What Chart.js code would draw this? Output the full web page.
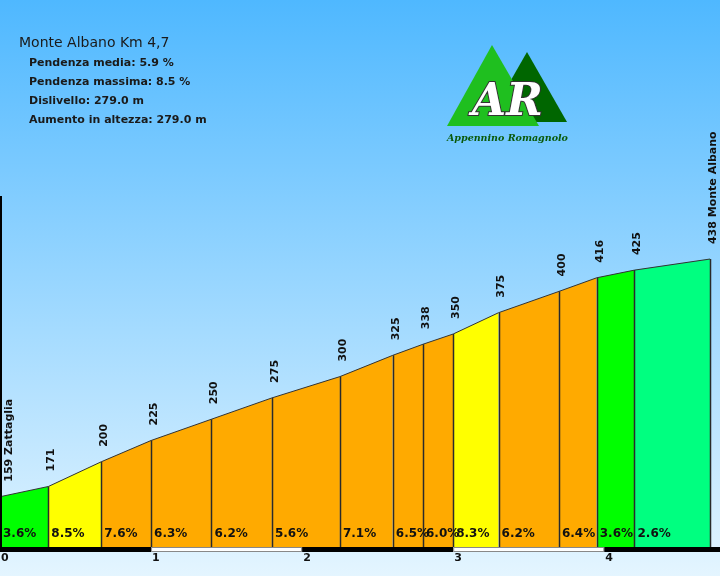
<!DOCTYPE html>
<html>
<head>
<meta charset="utf-8">
<script src="https://cdn.jsdelivr.net/npm/chart.js@4.4.0/dist/chart.umd.min.js"></script>
<style>
  html, body { margin: 0; padding: 0; }
  #wrap { width: 720px; height: 576px; position: relative; }
</style>
</head>
<body>
<div id="wrap"><canvas id="profile"></canvas></div>
<script>
// Dati del profilo altimetrico
const distances = [0, 0.32, 0.67, 1.0, 1.4, 1.8, 2.25, 2.6, 2.8, 3.0, 3.3, 3.7, 3.95, 4.2, 4.7];
const elevations = [159, 171, 200, 225, 250, 275, 300, 325, 338, 350, 375, 400, 416, 425, 438];
const grades = ['3.6%', '8.5%', '7.6%', '6.3%', '6.2%', '5.6%', '7.1%', '6.5%', '6.0%', '8.3%', '6.2%', '6.4%', '3.6%', '2.6%'];
const kmTicks = [0, 1, 2, 3, 4];
const startName = 'Zattaglia';
const endName = 'Monte Albano';
const title = 'Monte Albano Km 4,7';
const infoLines = [
  'Pendenza media: 5.9 %',
  'Pendenza massima: 8.5 %',
  'Dislivello: 279.0 m',
  'Aumento in altezza: 279.0 m'
];

// Colori per tratto
const segColors = ['#00ff00', '#ffff00', '#ffaa00', '#ffaa00', '#ffaa00', '#ffaa00', '#ffaa00',
  '#ffaa00', '#ffaa00', '#ffff00', '#ffaa00', '#ffaa00', '#00ff00', '#00ff80'];

// Un dataset per ogni tratto
const datasets = grades.map((g, i) => ({
  data: [{ x: distances[i], y: elevations[i] }, { x: distances[i + 1], y: elevations[i + 1] }],
  backgroundColor: segColors[i],
  borderColor: '#333',
  borderWidth: 1,
  fill: 'start',
  pointRadius: 0,
  tension: 0
}));

const profilePlugin = {
  id: 'profilePlugin',
  beforeDraw(chart) {
    const ctx = chart.ctx;
    const grad = ctx.createLinearGradient(0, 0, 0, chart.height);
    grad.addColorStop(0, '#4fb8ff');
    grad.addColorStop(1, '#e4f5ff');
    ctx.save();
    ctx.fillStyle = grad;
    ctx.fillRect(0, 0, chart.width, chart.height);
    ctx.restore();
  },
  afterDatasetsDraw(chart) {
    const ctx = chart.ctx;
    const xs = chart.scales.x;
    const ys = chart.scales.y;
    const area = chart.chartArea;
    const base = area.bottom;
    ctx.save();

    // linee verticali tra i tratti
    ctx.strokeStyle = '#2a2a2a';
    ctx.lineWidth = 1.5;
    for (let i = 1; i < distances.length; i++) {
      const px = Math.round(xs.getPixelForValue(distances[i])) + 0.5;
      ctx.beginPath();
      ctx.moveTo(px, base);
      ctx.lineTo(px, ys.getPixelForValue(elevations[i]));
      ctx.stroke();
    }

    // asse verticale
    ctx.fillStyle = '#000';
    ctx.fillRect(area.left, area.top, 2, base - area.top);

    // barra chilometrica
    for (let k = 0; k < Math.ceil(xs.max); k++) {
      const x0 = xs.getPixelForValue(k);
      const x1 = Math.min(xs.getPixelForValue(k + 1), area.right);
      if (k % 2 === 0) {
        ctx.fillStyle = '#000';
        ctx.fillRect(x0, base, x1 - x0, 5);
      } else {
        ctx.fillStyle = '#fff';
        ctx.fillRect(x0, base, x1 - x0, 5);
        ctx.strokeStyle = '#888';
        ctx.lineWidth = 1;
        ctx.strokeRect(x0 + 0.5, base + 0.5, x1 - x0 - 1, 4);
      }
    }

    // etichette km
    ctx.fillStyle = '#111';
    ctx.font = 'bold 11px "DejaVu Sans"';
    ctx.textAlign = 'left';
    ctx.textBaseline = 'middle';
    kmTicks.forEach(k => {
      ctx.fillText(String(k), xs.getPixelForValue(k) + 1, base + 11);
    });

    // pendenze
    ctx.font = 'bold 12px "DejaVu Sans"';
    grades.forEach((g, i) => {
      ctx.fillText(g, xs.getPixelForValue(distances[i]) + 3, base - 13);
    });

    // quote
    ctx.font = 'bold 11px "DejaVu Sans"';
    elevations.forEach((e, i) => {
      let label = String(e);
      if (i === 0) label += ' ' + startName;
      if (i === elevations.length - 1) label += ' ' + endName;
      let cx = xs.getPixelForValue(distances[i]) + 3;
      cx = Math.max(9, Math.min(cx, area.right - 7));
      const py = ys.getPixelForValue(e) - 15;
      ctx.save();
      ctx.translate(cx, py);
      ctx.rotate(-Math.PI / 2);
      ctx.textAlign = 'left';
      ctx.textBaseline = 'middle';
      ctx.fillText(label, 0, 0);
      ctx.restore();
    });
    ctx.restore();
  },
  afterDraw(chart) {
    const ctx = chart.ctx;
    ctx.save();
    // titolo e info
    ctx.fillStyle = '#1a1a1a';
    ctx.textAlign = 'left';
    ctx.textBaseline = 'middle';
    ctx.font = '14px "DejaVu Sans"';
    ctx.fillText(title, 19, 43);
    ctx.font = 'bold 11px "DejaVu Sans"';
    infoLines.forEach((t, i) => ctx.fillText(t, 29, 63 + i * 19.2));

    // logo
    ctx.fillStyle = '#006600';
    ctx.beginPath();
    ctx.moveTo(527, 52); ctx.lineTo(567, 122); ctx.lineTo(487, 122); ctx.closePath();
    ctx.fill();
    ctx.fillStyle = '#1fbf1f';
    ctx.beginPath();
    ctx.moveTo(492, 45); ctx.lineTo(539, 126); ctx.lineTo(447, 126); ctx.closePath();
    ctx.fill();
    ctx.font = 'bold italic 44px "DejaVu Serif"';
    ctx.textBaseline = 'alphabetic';
    ctx.lineWidth = 2;
    ctx.strokeStyle = '#333';
    ctx.strokeText('AR', 472, 115);
    ctx.fillStyle = '#fff';
    ctx.fillText('AR', 472, 115);
    ctx.fillStyle = '#0a5a0a';
    ctx.font = 'bold italic 9.5px "DejaVu Serif"';
    ctx.textBaseline = 'middle';
    ctx.fillText('Appennino Romagnolo', 447, 139);
    ctx.restore();
  }
};

new Chart(document.getElementById('profile'), {
  type: 'line',
  data: { datasets: datasets },
  options: {
    responsive: true,
    maintainAspectRatio: false,
    animation: false,
    layout: { padding: { top: 196, bottom: 29, left: 0, right: 0 } },
    plugins: { legend: { display: false }, tooltip: { enabled: false } },
    scales: {
      x: { type: 'linear', min: 0, max: 4.766, display: false },
      y: { min: 100, max: 512, display: false }
    }
  },
  plugins: [profilePlugin]
});
</script>
</body>
</html>
